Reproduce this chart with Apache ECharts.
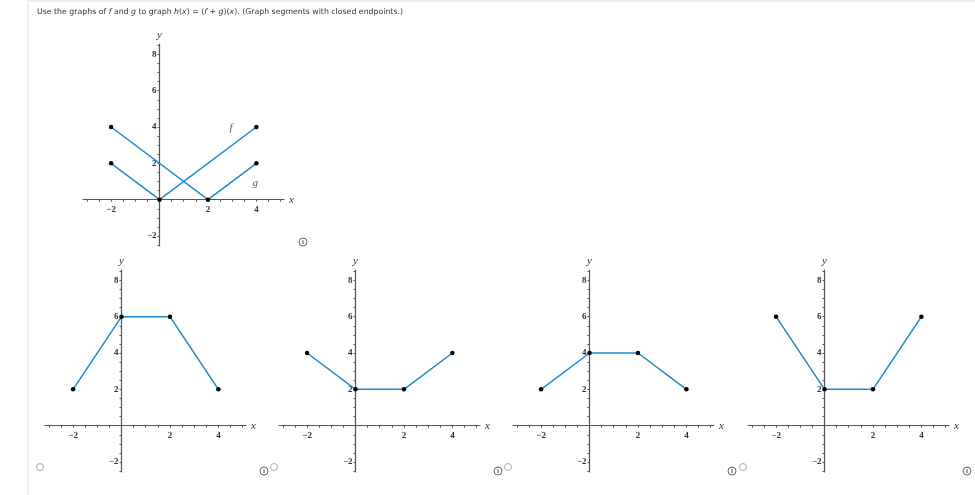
<!DOCTYPE html>
<html>
<head>
<meta charset="utf-8">
<title>Graphs of f and g</title>
<style>
  html, body { margin: 0; padding: 0; background: #fff; }
  #main { width: 975px; height: 495px; }
</style>
<script src="https://cdn.jsdelivr.net/npm/echarts@6/dist/echarts.min.js"></script>
</head>
<body>
<div id="main"></div>
<script>
// graph data
var fX = [-2, 0, 4];
var fY = [2, 0, 4];
var gX = [-2, 2, 4];
var gY = [4, 0, 2];

// answer choices share the same x values
var choiceX = [-2, 0, 2, 4];
var choiceA = [2, 6, 6, 2];
var choiceB = [4, 2, 2, 4];
var choiceC = [2, 4, 4, 2];
var choiceD = [6, 2, 2, 6];

var xTickLabels = [-2, 2, 4];
var yTickLabels = [-2, 2, 4, 6, 8];
var xTicks = [-3, -2.5, -2, -1.5, -1, -0.5, 0, 0.5, 1, 1.5, 2, 2.5, 3, 3.5, 4, 4.5, 5];
var yTicks = [-2.5, -2, -1.5, -1, -0.5, 0, 0.5, 1, 1.5, 2, 2.5, 3, 3.5, 4, 4.5, 5, 5.5, 6, 6.5, 7, 7.5, 8, 8.5];

var curveLabels = [
    { name: 'f', value: [2.95, 3.94] },
    { name: 'g', value: [3.95, 0.9] }
];

var X_MIN = -3.16, X_MAX = 5.14;
var Y_MIN = -2.55, Y_MAX = 8.57;
var PLOT_W = 201, PLOT_H = 202;

var BLUE = '#1f88cb';
var AXIS = '#555';
var TEXT = '#333';
var SERIF = '"Liberation Serif", serif';

function pair(xs, ys) {
    return xs.map(function (x, i) { return [x, ys[i]]; });
}

function minusLabel(v) {
    return v < 0 ? '\u2212' + Math.abs(v) : String(v);
}

var grids = [], xAxes = [], yAxes = [], series = [];

// labels stay at the grid edge with onZero, so shift the whole axis onto zero
var xAxisOffset = -(0 - Y_MIN) / (Y_MAX - Y_MIN) * PLOT_H;
var yAxisOffset = -(0 - X_MIN) / (X_MAX - X_MIN) * PLOT_W;

function addPlot(left, top, lines) {
    var idx = grids.length;
    grids.push({ left: left, top: top, width: PLOT_W, height: PLOT_H });
    xAxes.push({
        gridIndex: idx, type: 'value', min: X_MIN, max: X_MAX,
        position: 'bottom', offset: xAxisOffset,
        name: 'x', nameLocation: 'end', nameGap: 5,
        nameTextStyle: { fontFamily: SERIF, fontStyle: 'italic', fontSize: 11, color: TEXT },
        splitLine: { show: false },
        axisLine: { onZero: false, lineStyle: { color: AXIS, width: 1.2 } },
        axisTick: { show: true, customValues: xTicks, length: 2, lineStyle: { color: AXIS } },
        axisLabel: {
            customValues: xTickLabels, formatter: minusLabel, margin: 5,
            fontFamily: SERIF, fontWeight: 'bold', fontSize: 9, color: TEXT
        }
    });
    yAxes.push({
        gridIndex: idx, type: 'value', min: Y_MIN, max: Y_MAX,
        position: 'left', offset: yAxisOffset,
        name: 'y', nameLocation: 'end', nameGap: 3,
        nameTextStyle: { fontFamily: SERIF, fontStyle: 'italic', fontSize: 11, color: TEXT },
        splitLine: { show: false },
        axisLine: { onZero: false, lineStyle: { color: AXIS, width: 1.2 } },
        axisTick: { show: true, customValues: yTicks, length: 2, lineStyle: { color: AXIS } },
        axisLabel: {
            customValues: yTickLabels, formatter: minusLabel, margin: 3,
            fontFamily: SERIF, fontWeight: 'bold', fontSize: 9, color: TEXT
        }
    });
    lines.forEach(function (data) {
        series.push({
            type: 'line', xAxisIndex: idx, yAxisIndex: idx, data: data,
            symbol: 'circle', symbolSize: 4.5, showSymbol: true, animation: false,
            lineStyle: { color: BLUE, width: 1.5 },
            itemStyle: { color: '#000' }
        });
    });
    return idx;
}

var topPlot = addPlot(83, 44, [pair(fX, fY), pair(gX, gY)]);
addPlot(45, 270, [pair(choiceX, choiceA)]);
addPlot(279, 270, [pair(choiceX, choiceB)]);
addPlot(513, 270, [pair(choiceX, choiceC)]);
addPlot(748, 270, [pair(choiceX, choiceD)]);

// f and g captions sit on the top plot
series.push({
    type: 'scatter', xAxisIndex: topPlot, yAxisIndex: topPlot, data: curveLabels,
    symbolSize: 0, animation: false,
    label: {
        show: true, position: 'inside', formatter: '{b}',
        fontFamily: SERIF, fontStyle: 'italic', fontSize: 11, color: TEXT
    }
});

// page furniture around the plots
function infoIcon(cx, cy) {
    return {
        type: 'group', silent: true,
        children: [
            { type: 'circle', shape: { cx: cx, cy: cy, r: 4 }, style: { fill: '#fff', stroke: '#666', lineWidth: 1 } },
            { type: 'text', x: cx, y: cy, style: { text: 'i', fill: '#555', font: 'bold 7px ' + SERIF, textAlign: 'center', textVerticalAlign: 'middle' } }
        ]
    };
}

function radio(cx, cy) {
    return { type: 'circle', silent: true, shape: { cx: cx, cy: cy, r: 3.5 }, style: { fill: '#fff', stroke: '#aaa', lineWidth: 1 } };
}

var furniture = [
    { type: 'rect', silent: true, z: -1, shape: { x: 27, y: 3, width: 2, height: 492 }, style: { fill: '#eee' } },
    { type: 'rect', silent: true, z: -1, shape: { x: 27, y: 0, width: 948, height: 2 }, style: { fill: '#eee' } },
    infoIcon(303, 242), infoIcon(264, 471), infoIcon(498, 471), infoIcon(732, 471), infoIcon(967, 471),
    radio(40, 467), radio(274, 467), radio(508, 467), radio(743, 467)
];

var myChart = echarts.init(document.getElementById('main'), null, { renderer: 'canvas' });

var option = {
    backgroundColor: '#fff',
    animation: false,
    tooltip: { show: false },
    title: {
        left: 37, top: 8, padding: 0,
        text: 'Use the graphs of {i|f} and {i|g} to graph {i|h}({i|x}) = ({i|f} + {i|g})({i|x}). (Graph segments with closed endpoints.)',
        textStyle: {
            fontFamily: '"DejaVu Sans", sans-serif', fontWeight: 'normal', fontSize: 7.8, color: '#333',
            rich: { i: { fontFamily: '"DejaVu Sans", sans-serif', fontStyle: 'italic', fontSize: 7.8, color: '#333' } }
        }
    },
    graphic: furniture,
    grid: grids,
    xAxis: xAxes,
    yAxis: yAxes,
    series: series
};

myChart.setOption(option);

window.onresize = function () {
    myChart.resize();
};
</script>
</body>
</html>
